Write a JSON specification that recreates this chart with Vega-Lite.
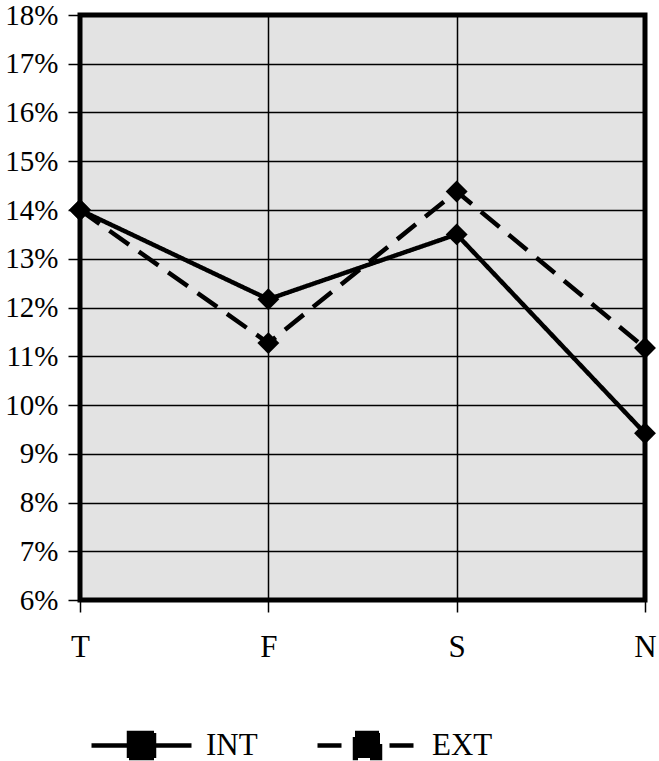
{
  "$schema": "https://vega.github.io/schema/vega-lite/v6.json",
  "width": 565,
  "height": 585,
  "autosize": {"type": "none"},
  "padding": {"left": 80, "top": 15, "right": 14, "bottom": 161},
  "background": "white",
  "config": {
    "font": "Liberation Serif",
    "view": {"fill": "#e3e3e3", "stroke": "black", "strokeWidth": 5}
  },
  "data": {
    "values": [
      {"cat": "T", "series": "INT", "value": 14.0},
      {"cat": "F", "series": "INT", "value": 12.17},
      {"cat": "S", "series": "INT", "value": 13.5},
      {"cat": "N", "series": "INT", "value": 9.42},
      {"cat": "T", "series": "EXT", "value": 14.0},
      {"cat": "F", "series": "EXT", "value": 11.27},
      {"cat": "S", "series": "EXT", "value": 14.38},
      {"cat": "N", "series": "EXT", "value": 11.17}
    ]
  },
  "encoding": {
    "x": {
      "field": "cat", "type": "ordinal", "sort": ["T", "F", "S", "N"],
      "scale": {"type": "point", "padding": 0},
      "axis": {"title": null, "domain": false, "labelAngle": 0, "grid": true, "gridColor": "black", "gridWidth": 1.5, "tickColor": "black", "tickSize": 12, "tickWidth": 1.5, "labelPadding": 20, "labelFont": "Liberation Serif", "labelFontSize": 31, "labelColor": "black"}
    },
    "y": {
      "field": "value", "type": "quantitative",
      "scale": {"domain": [6, 18], "nice": false, "zero": false},
      "axis": {"title": null, "domain": false, "values": [6,7,8,9,10,11,12,13,14,15,16,17,18], "grid": true, "gridColor": "black", "gridWidth": 1.5, "tickColor": "black", "tickSize": 12, "tickWidth": 1.5, "labelPadding": 10, "labelExpr": "datum.value + '%'", "labelFont": "Liberation Serif", "labelFontSize": 29, "labelColor": "black"}
    }
  },
  "layer": [
    {
      "mark": {"type": "line", "color": "black", "strokeWidth": 4.5},
      "encoding": {
        "strokeDash": {
          "field": "series", "type": "nominal",
          "scale": {"domain": ["INT", "EXT"], "range": [[1, 0], [24, 12]]},
          "legend": {
            "title": null, "orient": "none", "direction": "horizontal",
            "legendX": 9, "legendY": 678,
            "symbolType": "M-1,0H1M-0.25,-0.25H0.25V0.25H-0.25Z",
            "symbolSize": 10000, "symbolStrokeWidth": 4.5,
            "symbolStrokeColor": "black", "symbolFillColor": "black",
            "labelFont": "Liberation Serif", "labelFontSize": 31, "labelColor": "black",
            "labelOffset": 12, "columnPadding": 50
          }
        }
      }
    },
    {
      "mark": {"type": "point", "shape": "diamond", "filled": true, "color": "black", "size": 480, "opacity": 1},
      "encoding": {"detail": {"field": "series"}}
    }
  ]
}
